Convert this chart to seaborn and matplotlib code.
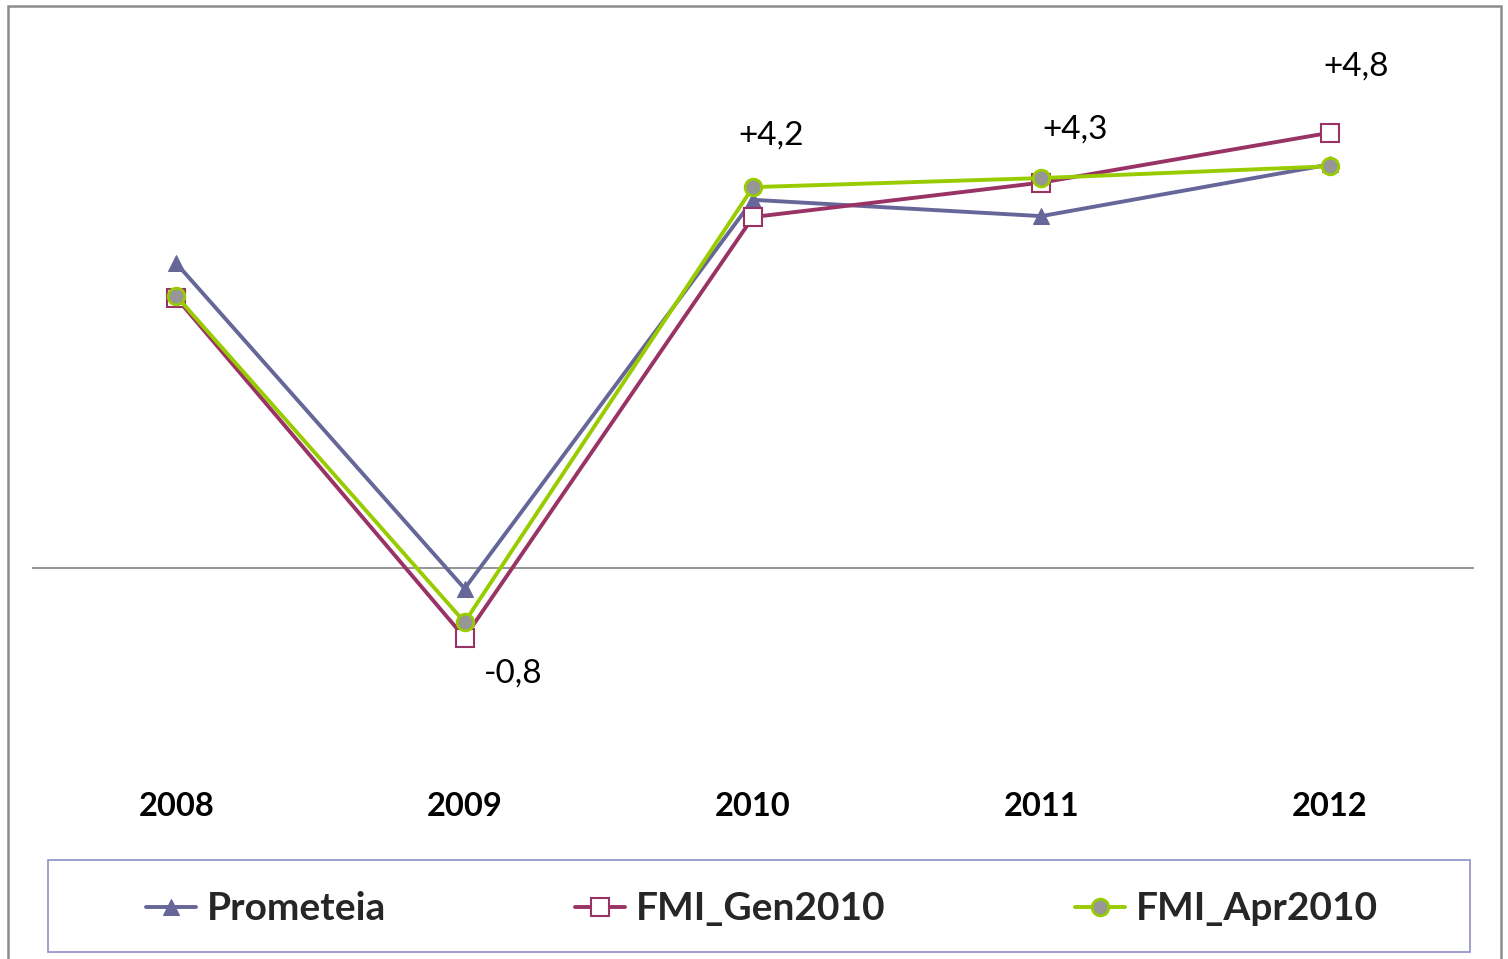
import matplotlib
matplotlib.use("Agg")
import matplotlib.pyplot as plt
from matplotlib.patches import Rectangle
import seaborn as sns
import pandas as pd

years = ["2008", "2009", "2010", "2011", "2012"]
prometeia = [3.36, -0.23, 4.06, 3.88, 4.45]
fmi_gen2010 = [2.98, -0.77, 3.87, 4.25, 4.8]
fmi_apr2010 = [3.0, -0.6, 4.2, 4.3, 4.43]
# data labels: (series, year index, text)
labels = [("apr", 2, "+4,2"), ("apr", 3, "+4,3"), ("gen", 4, "+4,8"), ("gen", 1, "-0,8")]

sns.set_theme(style="white")
plt.rcParams['font.family'] = ['Lato', 'DejaVu Sans']

W, H = 1508, 959
fig = plt.figure(figsize=(W / 100, H / 100), dpi=100)
ax = fig.add_axes([32 / W, 1 - 749 / H, (1474 - 32) / W, (749 - 24) / H])

x = list(range(len(years)))
c_prom = "#666699"
c_gen = "#993366"
c_apr = "#99CC00"

sns.lineplot(x=x, y=prometeia, ax=ax, color=c_prom, lw=2.8, marker="^", ms=12,
             markerfacecolor=c_prom, markeredgecolor=c_prom, label="Prometeia")
sns.lineplot(x=x, y=fmi_gen2010, ax=ax, color=c_gen, lw=2.8, marker="s", ms=13,
             markerfacecolor="white", markeredgecolor=c_gen, markeredgewidth=1.5,
             label="FMI_Gen2010")
sns.lineplot(x=x, y=fmi_apr2010, ax=ax, color=c_apr, lw=2.8, marker="o", ms=12,
             markerfacecolor="#969696", markeredgecolor=c_apr, markeredgewidth=2,
             label="FMI_Apr2010")

ax.axhline(0, color="#8c8c8c", lw=1.3, zorder=0)
ax.set_xlim(-0.5, 4.5)
ax.set_ylim(-2.0, 6.0)
ax.set_yticks([])
ax.set_xticks(x)
ax.set_xticklabels(years, fontsize=23.5, fontweight="bold", color="black")
ax.tick_params(axis="x", length=0, pad=31)
for s in ax.spines.values():
    s.set_visible(False)
ax.set_xlabel("")
ax.set_ylabel("")

series = {"apr": fmi_apr2010, "gen": fmi_gen2010}
offsets = {"+4,2": (13, 37), "+4,3": (24, 35), "+4,8": (19, 48), "-0,8": (35, -26)}
for key, i, txt in labels:
    ax.annotate(txt, (i, series[key][i]), xytext=offsets[txt], textcoords="offset points",
                ha="center", va="center", fontsize=24, color="black")

handles, labs = ax.get_legend_handles_labels()
ax.get_legend().remove()
leg = fig.legend(handles, labs, loc="center", bbox_to_anchor=(762 / W, 1 - 909 / H),
                 ncol=3, frameon=False, prop={"weight": "bold", "size": 28},
                 handlelength=1.29, handletextpad=0.28, columnspacing=4.85)

fig.patches.append(Rectangle((48 / W, 1 - 952 / H), (1470 - 48) / W, 92 / H,
                             transform=fig.transFigure, fill=False,
                             edgecolor="#9999CC", lw=1.3))
fig.patches.append(Rectangle((8 / W, -10 / H), (1501 - 8) / W, (953 + 10) / H,
                             transform=fig.transFigure, fill=False,
                             edgecolor="#8c8c8c", lw=1.8))

fig.savefig("out.png", dpi=100)
